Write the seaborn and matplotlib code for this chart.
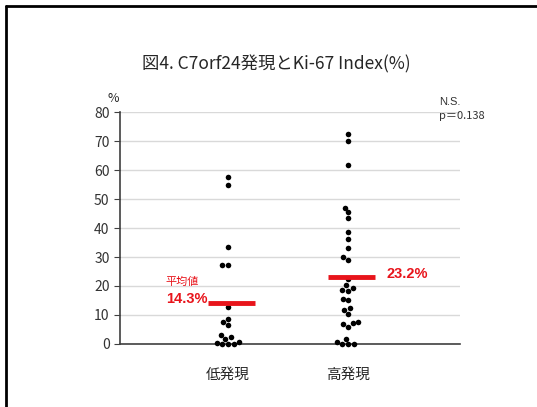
import pandas as pd
import matplotlib.pyplot as plt
import seaborn as sns

# Ki-67 index (%)
low_expr = [57.5, 54.8, 33.4, 27.1, 27.1, 12.8, 8.5, 7.5, 6.5, 3.1, 2.3, 1.7,
            0.8, 0.3, 0.0, 0.0, 0.0]
high_expr = [72.4, 69.9, 61.8, 47.0, 45.4, 43.3, 38.6, 36.2, 33.2, 30.1, 29.0,
             22.5, 20.2, 19.4, 18.4, 18.5, 15.5, 15.1, 12.4, 11.7, 10.3, 7.5,
             7.0, 7.2, 5.9, 0.7, 1.7, 0.0, 0.0, 0.0]
groups = ['低発現', '高発現']
means = [14.3, 23.2]
mean_labels = ['14.3%', '23.2%']
yticks = [0, 10, 20, 30, 40, 50, 60, 70, 80]

df = pd.DataFrame({
    'group': [groups[0]] * len(low_expr) + [groups[1]] * len(high_expr),
    'ki67': low_expr + high_expr,
})

sns.set_style('white')
plt.rcParams['font.family'] = ['Noto Sans CJK JP', 'DejaVu Sans']

fig = plt.figure(figsize=(5.37, 4.07), dpi=100)
ax = fig.add_axes([0.2235, 0.1548, 0.6331, 0.57])

sns.swarmplot(data=df, x='group', y='ki67', order=groups, color='black',
              size=4, ax=ax, zorder=3)
for c in ax.collections:
    c.set_clip_on(False)

# mean bars
red = '#e8141b'
for i, m in enumerate(means):
    ax.hlines(m, i - 0.17, i + 0.22, color=red, linewidth=3.5, zorder=4)

ax.set_xlim(-0.9, 1.93)
ax.set_ylim(0, 80)
ax.set_yticks(yticks)
ax.yaxis.grid(True, color='#d9d9d9', linewidth=1)
ax.set_axisbelow(True)
ax.set_xlabel('')
ax.set_ylabel('')
for s in ['top', 'right']:
    ax.spines[s].set_visible(False)
for s in ['left', 'bottom']:
    ax.spines[s].set_color('#404040')
    ax.spines[s].set_linewidth(1.2)
ax.tick_params(axis='y', left=True, length=4, color='#404040',
               labelsize=10, colors='#404040')
ax.tick_params(axis='y', labelcolor='#333333')
ax.tick_params(axis='x', bottom=False, labelsize=10.5, pad=14)

ax.text(-0.02, 1.06, '%', transform=ax.transAxes, fontsize=9, ha='center',
        va='center')
bold = ['Liberation Sans', 'DejaVu Sans']
ax.text(0 - 0.52, 14.3 + 7.2, '平均値', color=red, fontsize=8, va='center')
ax.text(0 - 0.52, 14.3 + 1.2, mean_labels[0], color=red, fontsize=10.5,
        fontweight='bold', va='center', family=bold)
ax.text(1 + 0.32, 23.2 + 0.9, mean_labels[1], color=red, fontsize=10.5,
        fontweight='bold', va='center', family=bold)

fig.text(0.818, 0.749, 'N.S.', fontsize=8, color='#333333', va='center',
         family=['Liberation Sans'])
fig.text(0.818, 0.716, 'p＝0.138', fontsize=8, color='#333333', va='center')

fig.text(0.515, 0.843, '図4. C7orf24発現とKi-67 Index(%)', fontsize=12.5,
         ha='center', va='center')

# outer frame (top and left edges)
fig.add_artist(plt.Line2D([0.011, 1.0], [0.985, 0.985], color='black',
                          linewidth=2, transform=fig.transFigure))
fig.add_artist(plt.Line2D([0.011, 0.011], [0.0, 0.985], color='black',
                          linewidth=2, transform=fig.transFigure))

fig.savefig('out.png', dpi=100)
